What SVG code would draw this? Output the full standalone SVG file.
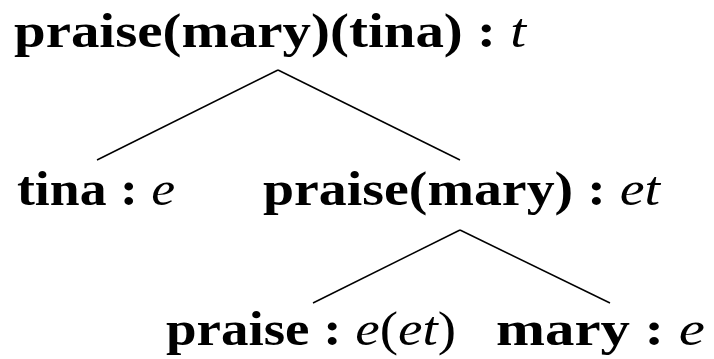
<svg xmlns="http://www.w3.org/2000/svg" width="714" height="359" viewBox="0 0 714 359">
<style>
.b{font-family:"Liberation Serif","DejaVu Serif",serif;font-weight:bold;font-size:48px;fill:#000}
.i{font-style:italic;font-weight:normal}
.n{font-weight:normal}
.e{stroke:#000;stroke-width:1.5;fill:none}
</style>
<rect width="714" height="359" fill="#fff"/>
<g id="connectors">
<line class="e" x1="278" y1="70" x2="97" y2="160"/>
<line class="e" x1="278" y1="70" x2="460" y2="160"/>
<line class="e" x1="460" y1="230" x2="313" y2="303"/>
<line class="e" x1="460" y1="230" x2="610" y2="303"/>
</g>
<g id="root"><text class="b" x="14" y="47" textLength="512" lengthAdjust="spacingAndGlyphs">praise(mary)(tina) : <tspan class="i">t</tspan></text></g>
<g id="tina"><text class="b" x="17" y="205" textLength="158" lengthAdjust="spacingAndGlyphs">tina : <tspan class="i">e</tspan></text></g>
<g id="praise_mary"><text class="b" x="263" y="205" textLength="397" lengthAdjust="spacingAndGlyphs">praise(mary) : <tspan class="i">et</tspan></text></g>
<g id="praise"><text class="b" x="166" y="345" textLength="290" lengthAdjust="spacingAndGlyphs">praise : <tspan class="i">e</tspan><tspan class="n">(</tspan><tspan class="i">et</tspan><tspan class="n">)</tspan></text></g>
<g id="mary"><text class="b" x="496" y="345" textLength="209" lengthAdjust="spacingAndGlyphs">mary : <tspan class="i">e</tspan></text></g>
</svg>
